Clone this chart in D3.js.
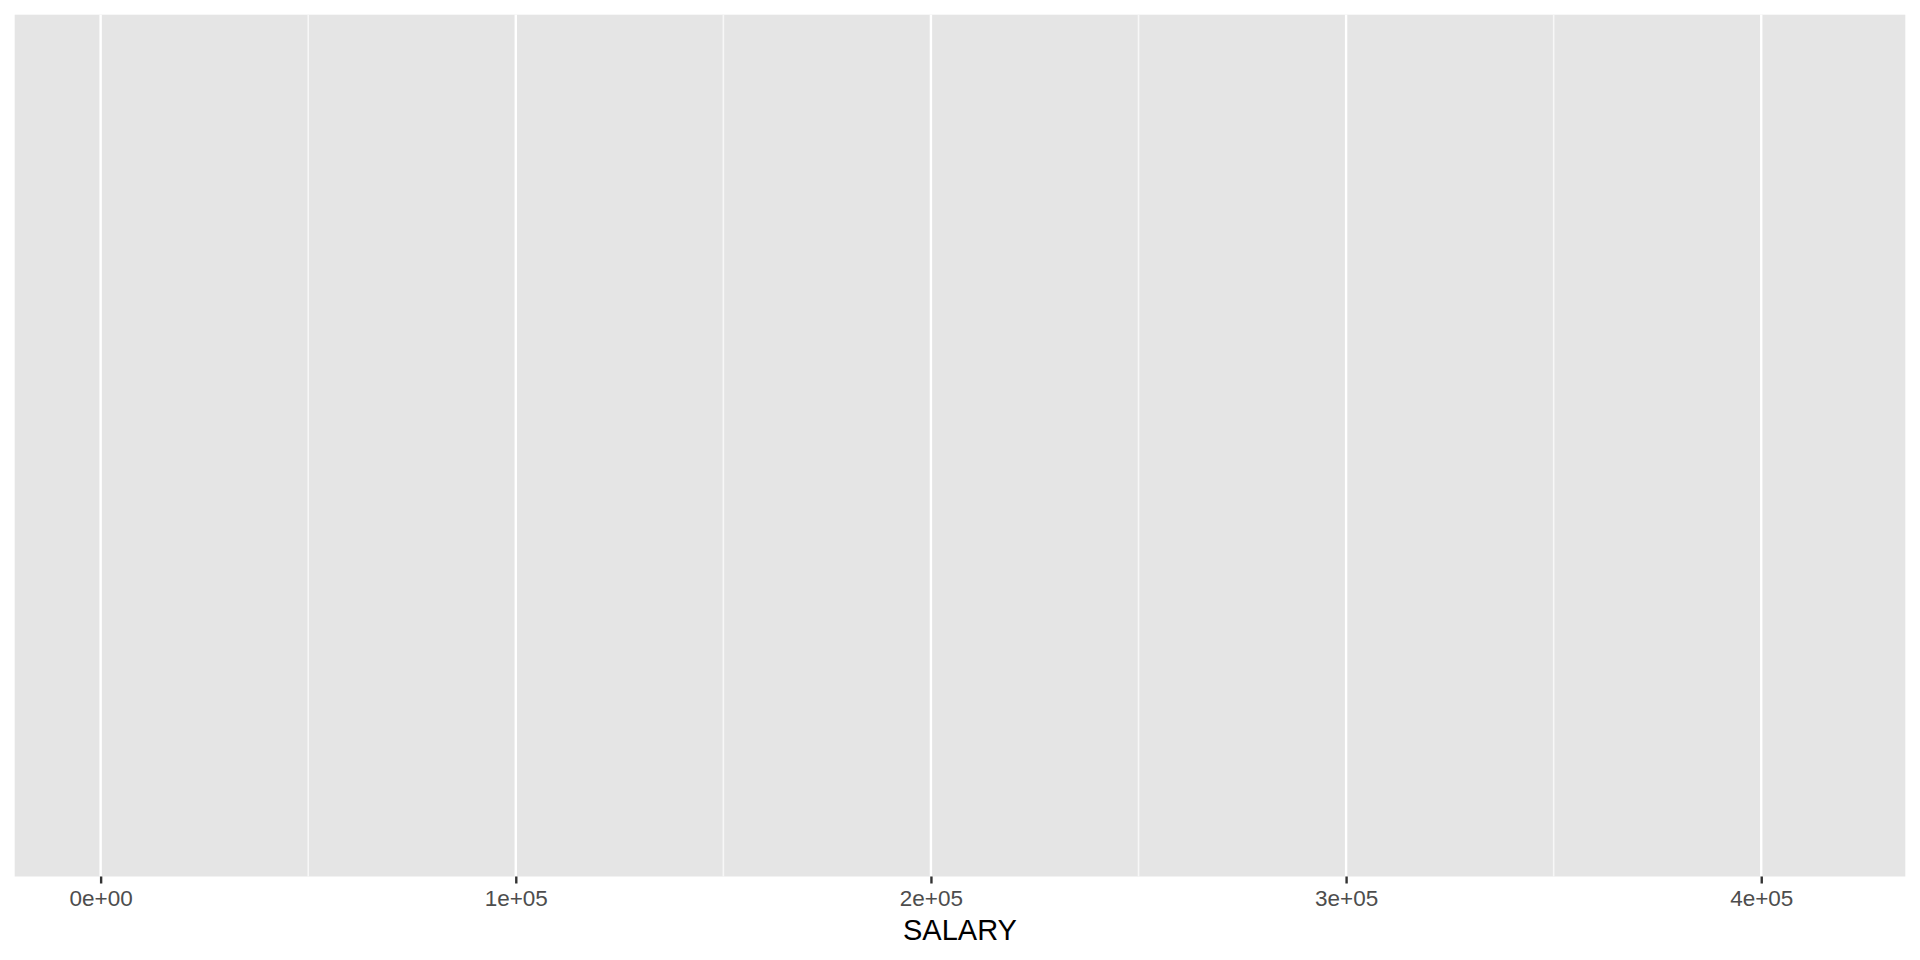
<!DOCTYPE html>
<html>
<head>
<meta charset="utf-8">
<script src="https://cdn.jsdelivr.net/npm/d3@7"></script>
<style>
  html, body { margin: 0; padding: 0; background: #ffffff; }
  svg { display: block; }
</style>
</head>
<body>
<svg id="chart" width="1920" height="960"></svg>
<script>
// Data: the SALARY variable range shown on the x axis (no marks visible in the panel)
const salaryExtent = [0, 414000];
const majorTicks = [0, 100000, 200000, 300000, 400000];
const minorTicks = [50000, 150000, 250000, 350000];
const tickLabels = ["0e+00", "1e+05", "2e+05", "3e+05", "4e+05"];
const xTitle = "SALARY";

const W = 1920, H = 960;
const panel = { left: 14.7, top: 14.7, right: 1905.3, bottom: 876.5 };

const svg = d3.select("#chart");

// ggplot-style 5% expansion
const span = salaryExtent[1] - salaryExtent[0];
const x = d3.scaleLinear()
  .domain([salaryExtent[0] - 0.05 * span, salaryExtent[1] + 0.05 * span])
  .range([panel.left, panel.right]);

// panel background
svg.append("rect")
  .attr("x", panel.left).attr("y", panel.top)
  .attr("width", panel.right - panel.left)
  .attr("height", panel.bottom - panel.top)
  .attr("fill", "#E5E5E5");

// minor gridlines
svg.append("g").selectAll("line").data(minorTicks).join("line")
  .attr("x1", d => x(d)).attr("x2", d => x(d))
  .attr("y1", panel.top).attr("y2", panel.bottom)
  .attr("stroke", "#F7F7F7").attr("stroke-width", 1.6);

// major gridlines
svg.append("g").selectAll("line").data(majorTicks).join("line")
  .attr("x1", d => x(d)).attr("x2", d => x(d))
  .attr("y1", panel.top).attr("y2", panel.bottom)
  .attr("stroke", "#FFFFFF").attr("stroke-width", 2.4);

// x axis via d3.axisBottom
const axis = d3.axisBottom(x)
  .tickValues(majorTicks)
  .tickFormat((d, i) => tickLabels[i])
  .tickSize(7)
  .tickPadding(6);

const gAxis = svg.append("g")
  .attr("transform", `translate(0,${panel.bottom})`)
  .call(axis);
gAxis.select(".domain").remove();
gAxis.selectAll(".tick line").attr("stroke", "#333333").attr("stroke-width", 2.4);
gAxis.selectAll(".tick text")
  .attr("fill", "#4D4D4D")
  .attr("font-family", "'Liberation Sans', Arial, sans-serif")
  .attr("font-size", 22.5)
  .attr("dy", null)
  .attr("y", 906 - panel.bottom);

// x axis title
svg.append("text")
  .attr("x", (panel.left + panel.right) / 2)
  .attr("y", 939.5)
  .attr("text-anchor", "middle")
  .attr("font-family", "'Liberation Sans', Arial, sans-serif")
  .attr("font-size", 29)
  .attr("fill", "#000000")
  .text(xTitle);
</script>
</body>
</html>
